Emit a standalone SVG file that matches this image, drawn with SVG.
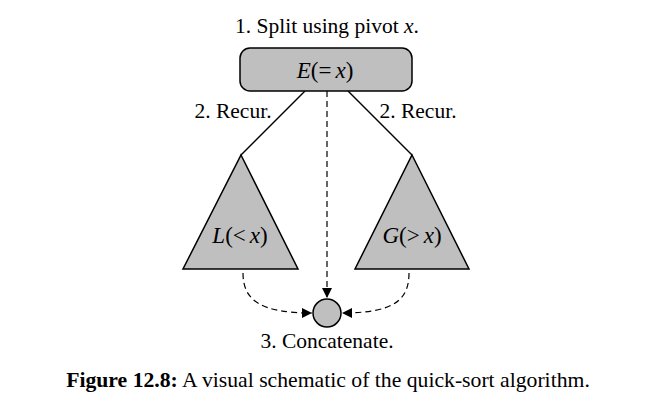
<svg xmlns="http://www.w3.org/2000/svg" width="671" height="411" viewBox="0 0 671 411">
<style>
text{font-family:"Liberation Serif","Times New Roman",serif;font-size:21.5px;fill:#000}
.it{font-style:italic}
.math{font-size:23px}
.cap{font-size:21.7px}
.shape{fill:#bfbfbf;stroke:#000;stroke-width:1.5}
.solid{fill:none;stroke:#000;stroke-width:1.5}
.dash{fill:none;stroke:#000;stroke-width:1.2;stroke-dasharray:6,4}
</style>
<defs>
<marker id="ah" viewBox="0 0 10 10" refX="10" refY="5" markerWidth="14" markerHeight="10" markerUnits="userSpaceOnUse" orient="auto">
<path d="M0,0 L10,5 L0,10 z" fill="#000"/>
</marker>
</defs>
<rect width="671" height="411" fill="#fff"/>
<text x="327" y="33" text-anchor="middle">1. Split using pivot <tspan class="it">x</tspan>.</text>
<g id="connectors">
<path class="solid" d="M305,91 L241,155"/>
<path class="solid" d="M348,91 L412,155"/>
<path class="dash" d="M327,91 L327,298" marker-end="url(#ah)"/>
<path class="dash" d="M243,273 C243,300 260,313 312,313" marker-end="url(#ah)"/>
<path class="dash" d="M409,273 C409,300 394,313 342,313" marker-end="url(#ah)"/>
</g>
<text x="233" y="118" text-anchor="middle">2. Recur.</text>
<text x="418" y="118" text-anchor="middle">2. Recur.</text>
<g id="E">
<rect class="shape" x="240" y="48" width="172" height="43" rx="10"/>
<text class="math" x="325" y="78" text-anchor="middle"><tspan class="it">E</tspan>(=<tspan dx="4" class="it">x</tspan>)</text>
</g>
<g id="L">
<path class="shape" d="M241,155 L298,269 L183,269 Z"/>
<text class="math" x="240" y="243" text-anchor="middle"><tspan class="it">L</tspan>(&lt;<tspan dx="4" class="it">x</tspan>)</text>
</g>
<g id="G">
<path class="shape" d="M412,155 L469,269 L355,269 Z"/>
<text class="math" x="412" y="243" text-anchor="middle"><tspan class="it">G</tspan>(&gt;<tspan dx="4" class="it">x</tspan>)</text>
</g>
<g id="C">
<circle class="shape" cx="327" cy="313" r="14"/>
</g>
<text x="327" y="348" text-anchor="middle">3. Concatenate.</text>
<text class="cap" x="328" y="387" text-anchor="middle"><tspan font-weight="bold">Figure 12.8:</tspan> A visual schematic of the quick-sort algorithm.</text>
</svg>
